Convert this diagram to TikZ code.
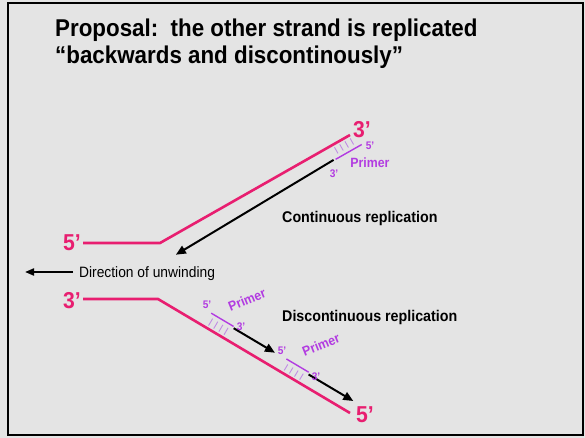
\documentclass[tikz,border=0pt]{standalone}
\usepackage{fontspec}
\setmainfont{Liberation Sans}[FakeStretch=0.92]
\usetikzlibrary{arrows.meta}
\definecolor{bg}{RGB}{228,228,228}
\definecolor{strand}{RGB}{232,30,112}
\definecolor{primer}{RGB}{178,60,225}
\definecolor{hatch}{RGB}{192,140,228}
\begin{document}
\begin{tikzpicture}[x=1pt,y=-1pt,
  strandline/.style={strand,line width=2.6pt},
  primerline/.style={primer,line width=1.4pt},
  hatchline/.style={hatch,line width=0.9pt},
  synth/.style={black,line width=2pt,-{Triangle[length=10pt,width=8.5pt]}},
  endlabel/.style={strand,font=\fontsize{23}{25}\selectfont\bfseries,anchor=base west,inner sep=0},
  smalllabel/.style={primer,font=\fontsize{11}{12}\selectfont\bfseries,inner sep=0},
  primerlabel/.style={primer,font=\fontsize{13.4}{15}\selectfont\bfseries,inner sep=0},
  caption/.style={font=\fontsize{15.5}{17}\selectfont\bfseries,anchor=base west,inner sep=0},
  titletext/.style={font=\fontsize{24.3}{27}\selectfont\bfseries,anchor=base west,inner sep=0},
]
% slide background and frame
\fill[bg] (0,0) rectangle (585,438);
\draw[line width=2pt] (7.5,3.5) rectangle (582.5,434.5);
\useasboundingbox (0,0) rectangle (585,438);

% heading
\node[titletext] (title1) at (55,37) {Proposal:\ \ the other strand is replicated};
\node[titletext] (title2) at (55,64) {“backwards and discontinously”};

% parental strands forming the fork
\coordinate (u5) at (83,243);
\coordinate (ufork) at (160,243);
\coordinate (u3) at (350,135);
\coordinate (l3) at (83,299);
\coordinate (lfork) at (158,299);
\coordinate (l5) at (350,413);
\draw[strandline] (u5) -- (ufork) -- (u3);
\draw[strandline] (l3) -- (lfork) -- (l5);

\node[endlabel] (lab5u) at (63,250) {5’};
\node[endlabel] (lab3l) at (63,308) {3’};
\node[endlabel] (lab3u) at (353,138) {3’};
\node[endlabel] (lab5l) at (356,422) {5’};

% upper arm: one primer, continuous synthesis toward the fork
\begin{scope}[shift={(160,243)},rotate=29.6]
  \coordinate (up5) at (224,14);
  \coordinate (up3) at (194,14);
  \coordinate (usynA) at (192,13.5);
  \coordinate (usynB) at (8,18);
  \foreach \t in {199,205,211,217}
    \draw[hatchline] (\t,3) -- (\t,10);
\end{scope}
\draw[primerline] (up3) -- (up5);
\draw[synth] (usynA) -- (usynB);
\node[smalllabel] (up5lab) at (370,146) {5’};
\node[primerlabel] (upname) at (370,163) {Primer};
\node[smalllabel] (up3lab) at (334,174) {3’};

% lower arm: primers laid down repeatedly, synthesis away from the fork
\begin{scope}[shift={(158,299)},rotate=-30.7]
  \coordinate (p1a) at (53,-15);
  \coordinate (p1b) at (79,-15);
  \coordinate (p2a) at (141,-14);
  \coordinate (p2b) at (167,-14);
  \coordinate (s1a) at (80,-13.5);
  \coordinate (s1b) at (128,-13.5);
  \coordinate (s2a) at (168,-12);
  \coordinate (s2b) at (220,-12);
  \foreach \t in {57,63,69,75}
    \draw[hatchline] (\t,-3) -- (\t,-11);
  \foreach \t in {145,151,157,163}
    \draw[hatchline] (\t,-3) -- (\t,-10);
\end{scope}
\draw[primerline] (p1a) -- (p1b);
\draw[primerline] (p2a) -- (p2b);
\draw[synth] (s1a) -- (s1b);
\draw[synth] (s2a) -- (s2b);
\node[smalllabel] (p1lab5) at (207,305) {5’};
\node[primerlabel,rotate=22] (p1name) at (247,300) {Primer};
\node[smalllabel] (p1lab3) at (241,327) {3’};
\node[smalllabel] (p2lab5) at (282,351) {5’};
\node[primerlabel,rotate=22] (p2name) at (321,345) {Primer};
\node[smalllabel] (p2lab3) at (316,377) {3’};

% captions
\node[caption] (cont) at (282,222) {Continuous replication};
\node[caption] (discont) at (282,321) {Discontinuous replication};
\coordinate (dirA) at (73,272);
\coordinate (dirB) at (25,272);
\draw[black,line width=2pt,-{Triangle[length=9pt,width=7pt]}] (dirA) -- (dirB);
\node[font=\fontsize{15}{17}\selectfont,anchor=base west,inner sep=0] (unwind) at (79,277) {Direction of unwinding};
\end{tikzpicture}
\end{document}
